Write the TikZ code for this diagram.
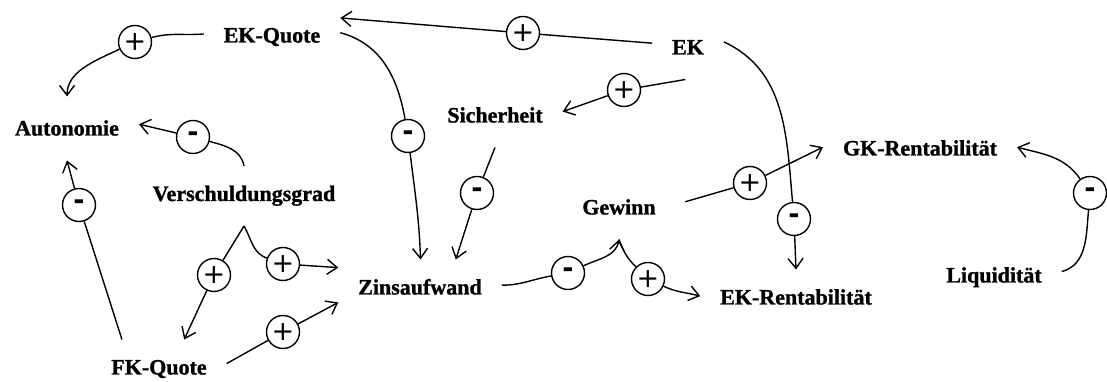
\documentclass[tikz,border=0pt]{standalone}
\usepackage{fontspec}
\setmainfont{Liberation Serif}[BoldFeatures={FakeBold=1.2}]
\newfontfamily\signfont{DejaVu Sans}
\usetikzlibrary{arrows.meta}

\begin{document}
\begin{tikzpicture}[x=1pt, y=1pt, line width=1.4pt,
    >={Straight Barb[length=10pt,width=15pt]},
    var/.style={font=\fontsize{22}{26}\selectfont\bfseries, inner sep=0pt,
      outer sep=20pt, text height=15pt, text depth=5pt},
    sgn/.style={circle, draw, minimum size=33pt, inner sep=0pt,
      font=\fontsize{27}{27}\signfont},
    neg/.style={sgn, font=\fontsize{27}{27}\signfont\bfseries}]
  \useasboundingbox (0,0) rectangle (1107,382);

  \node[var] (ekq)  at (272,344.5) {EK-Quote};
  \node[var] (ek)   at (688,332.5) {EK};
  \node[var] (auto) at (67,251.5)  {Autonomie};
  \node[var] (sich) at (495,264.5) {Sicherheit};
  \node[var] (vsg)  at (244,186)   {Verschuldungsgrad};
  \node[var] (gkr)  at (920,231.5) {GK-Rentabilität};
  \node[var] (gew)  at (619,172.5) {Gewinn};
  \node[var] (zins) at (420,92.5)  {Zinsaufwand};
  \node[var] (ekr)  at (796,82.5)  {EK-Rentabilität};
  \node[var] (liq)  at (994,104.5) {Liquidität};
  \node[var] (fkq)  at (159,12.5)  {FK-Quote};

  \node[sgn] (s1)  at (135,340)  {+};
  \node[neg] (s2)  at (193,245)  {-};
  \node[neg] (s3)  at (79,177)   {-};
  \node[sgn] (s4)  at (523,349)  {+};
  \node[sgn] (s5)  at (624,292)  {+};
  \node[neg] (s6)  at (408,246)  {-};
  \node[neg] (s7)  at (477,189)  {-};
  \node[sgn] (s8)  at (214,107)  {+};
  \node[sgn] (s9)  at (283,118)  {+};
  \node[sgn] (s10) at (283,50)   {+};
  \node[neg] (s11) at (568,109)  {-};
  \node[sgn] (s12) at (648,103)  {+};
  \node[sgn] (s13) at (750,199)  {+};
  \node[neg] (s14) at (794,163)  {-};
  \node[neg] (s15) at (1090,189) {-};

  \draw (ekq.177) to[out=185,in=15] (s1);
  \draw[->, shorten >=4pt] (s1) to[out=205,in=90] (auto.north);
  \draw (vsg.north) to[out=100,in=-15] (s2);
  \draw[->] (s2) -- (auto.5);
  \draw (fkq.141) -- (s3);
  \draw[->] (s3) -- (auto.south);
  \draw (ek.170) -- (s4);
  \draw[->] (s4) -- (ekq.16);
  \draw (ek.265) -- (s5);
  \draw[->] (s5) -- (sich.5);
  \draw (ekq.4) to[out=-15,in=100] (s6);
  \draw[->] (s6) to[out=-83,in=92] (zins.89);
  \draw (sich.south) -- (s7);
  \draw[->] (s7) -- (zins.40);
  \draw (vsg.south) -- (s8);
  \draw[->] (s8) -- (fkq.50);
  \draw (vsg.south) to[out=-60,in=160] (s9);
  \draw[->] (s9) -- (zins.165);
  \draw (fkq.5) -- (s10);
  \draw[->] (s10) -- (zins.189);
  \draw (zins.3) to[out=0,in=190] (s11);
  \draw[->] (s11) to[out=25,in=-100] (gew.south);
  \draw (gew.south) to[out=-70,in=135] (s12);
  \draw[->] (s12) to[out=-25,in=165] (ekr.178);
  \draw[shorten <=10pt] (gew.5) -- (s13);
  \draw[->] (s13) -- (gkr.178);
  \draw (ek.12) to[out=-25,in=95] (s14);
  \draw[->] (s14) -- (ekr.north);
  \draw (liq.5) to[out=15,in=-95] (s15);
  \draw[->] (s15) to[out=125,in=-15] (gkr.2);
\end{tikzpicture}
\end{document}
